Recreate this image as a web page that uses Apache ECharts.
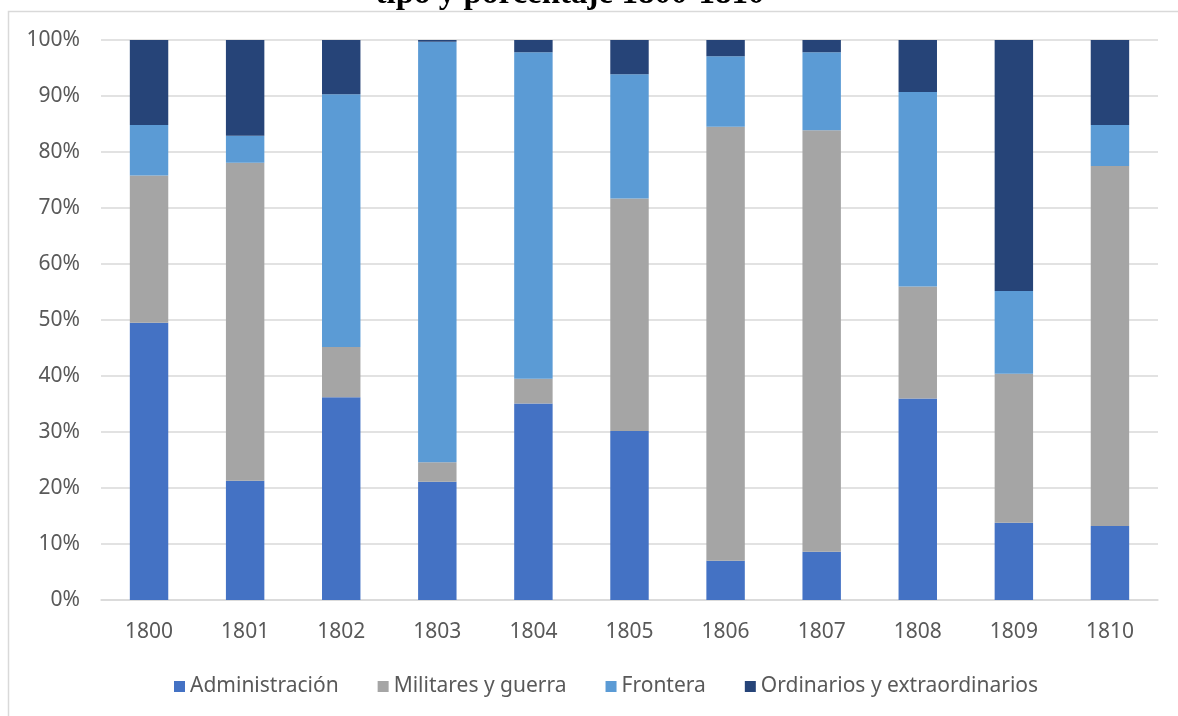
<!DOCTYPE html>
<html>
<head>
    <meta charset="utf-8">
    <title>tipo y porcentaje 1800-1810</title>
    <script src="https://cdn.jsdelivr.net/npm/echarts@6/dist/echarts.min.js"></script>
    <style>
        html, body { margin: 0; padding: 0; background: #fff; }
    </style>
</head>
<body>
    <div id="main" style="width: 1178px;height:716px;"></div>
    <script type="text/javascript">
        // datos (porcentajes por año)
        var years = ['1800', '1801', '1802', '1803', '1804', '1805', '1806', '1807', '1808', '1809', '1810'];
        var administracion = [49.5, 21.3, 36.2, 21.1, 35.1, 30.2, 7.0, 8.6, 36.0, 13.8, 13.2];
        var militares = [26.3, 56.8, 9.0, 3.5, 4.4, 41.5, 77.5, 75.3, 20.0, 26.6, 64.3];
        var frontera = [9.0, 4.8, 45.1, 75.1, 58.3, 22.2, 12.6, 13.9, 34.7, 14.8, 7.3];
        var ordinarios = [15.2, 17.1, 9.7, 0.3, 2.2, 6.1, 2.9, 2.2, 9.3, 44.8, 15.2];
        var seriesNames = ['Administración', 'Militares y guerra', 'Frontera', 'Ordinarios y extraordinarios'];
        var colors = ['#4472C4', '#A5A5A5', '#5B9BD5', '#264478'];

        var myChart = echarts.init(document.getElementById('main'));
        var txt = '#595959';
        var font = 'Noto Sans';

        var allData = [administracion, militares, frontera, ordinarios];
        var series = seriesNames.map(function (name, i) {
            return {
                name: name,
                type: 'bar',
                stack: 'total',
                barWidth: '40%',
                data: allData[i],
                itemStyle: { color: colors[i] }
            };
        });

        var option = {
            color: colors,
            animation: false,
            graphic: [
                {   // marco del gráfico
                    type: 'rect',
                    shape: { x: 8.5, y: 11.5, width: 1300, height: 900 },
                    style: { fill: 'none', stroke: '#d9d9d9', lineWidth: 1.5 },
                    silent: true
                },
                {   // título (cortado arriba)
                    type: 'text',
                    x: 570,
                    y: 11,
                    style: {
                        text: 'tipo y porcentaje 1800-1810',
                        font: 'bold 33px "Liberation Serif"',
                        fill: '#000',
                        textAlign: 'center',
                        textVerticalAlign: 'bottom'
                    },
                    silent: true
                }
            ],
            grid: { left: 101, right: 20, top: 40, bottom: 116 },
            legend: {
                left: 169,
                top: 671,
                itemWidth: 11,
                itemHeight: 11,
                itemGap: 39,
                icon: 'rect',
                textStyle: { color: txt, fontSize: 21, fontFamily: font }
            },
            xAxis: {
                type: 'category',
                data: years,
                axisTick: { show: false },
                axisLine: { lineStyle: { color: '#d9d9d9', width: 1.5 } },
                axisLabel: { color: txt, fontSize: 21, fontFamily: font, margin: 22 }
            },
            yAxis: {
                type: 'value',
                min: 0,
                max: 100,
                interval: 10,
                axisLine: { show: false },
                axisTick: { show: false },
                splitLine: { lineStyle: { color: '#d9d9d9', width: 1.5 } },
                axisLabel: { color: txt, fontSize: 21, fontFamily: font, margin: 21, formatter: '{value}%' }
            },
            series: series
        };

        myChart.setOption(option);
    </script>
</body>
</html>
